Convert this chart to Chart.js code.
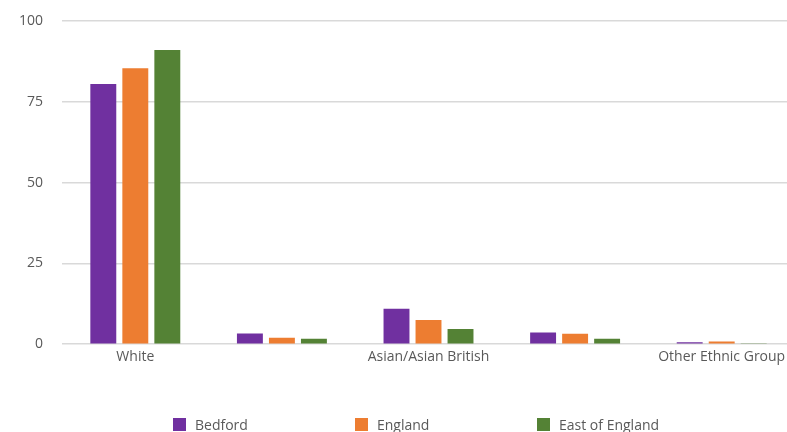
<!DOCTYPE html>
<html>
<head>
<meta charset="utf-8">
<script src="https://cdn.jsdelivr.net/npm/chart.js@4/dist/chart.umd.min.js"></script>
<style>
  html, body { margin: 0; padding: 0; background: #fff; overflow: hidden; }
  #wrap { position: relative; width: 795px; height: 432px; }
  #legend { position: absolute; left: 0; top: 415px; width: 787px; height: 17px;
            font-family: "Open Sans", sans-serif; font-size: 14px; color: #595959; }
  .li { position: absolute; top: 0; display: flex; align-items: center; white-space: nowrap; }
  .sw { width: 13px; height: 13px; margin-right: 9px; display: inline-block; }
</style>
</head>
<body>
<div id="wrap">
  <canvas id="c" width="795" height="432"></canvas>
  <div id="legend"></div>
</div>
<script>
const categories = ["White", "Mixed/Multiple Ethnic Groups", "Asian/Asian British", "Black/African/Caribbean/Black British", "Other Ethnic Group"];
const seriesNames = ["Bedford", "England", "East of England"];
const bedford = [80.5, 3.3, 11.0, 3.6, 0.6];
const england = [85.4, 2.0, 7.5, 3.2, 0.8];
const eastOfEngland = [91.0, 1.7, 4.7, 1.7, 0.3];
const yTicks = [0, 25, 50, 75, 100];
const colors = ["#7030a0", "#ed7d31", "#548235"];

const seriesValues = [bedford, england, eastOfEngland];
const chart = new Chart(document.getElementById('c'), {
  type: 'bar',
  data: {
    labels: categories,
    datasets: seriesNames.map((n, i) => ({
      label: n,
      data: seriesValues[i],
      backgroundColor: colors[i],
      borderWidth: 0,
      barPercentage: 0.81,
      categoryPercentage: 0.655
    }))
  },
  options: {
    responsive: false,
    animation: false,
    layout: { padding: { left: 15, right: 0, top: 21, bottom: 63 } },
    plugins: { legend: { display: false }, tooltip: { enabled: false } },
    scales: {
      x: {
        grid: { display: false, drawTicks: false },
        border: { display: false },
        ticks: {
          autoSkip: false, maxRotation: 0, minRotation: 0, padding: 4,
          // like the original, only every other category label is shown
          callback: function (value, index) { return index % 2 === 0 ? this.getLabelForValue(value) : ''; },
          color: '#595959', font: { family: '"Open Sans", sans-serif', size: 14 }
        }
      },
      y: {
        min: 0, max: 100,
        afterBuildTicks: (axis) => { axis.ticks = yTicks.map(v => ({ value: v })); },
        grid: { color: '#d9d9d9', lineWidth: 1.5, drawTicks: true, tickLength: 15, tickColor: 'rgba(0,0,0,0)' },
        border: { display: false },
        ticks: {
          padding: 4,
          color: '#595959', font: { family: '"Open Sans", sans-serif', size: 14 }
        }
      }
    }
  }
});

const legend = document.getElementById('legend');
chart.data.datasets.forEach((ds, i) => {
  const item = document.createElement('div');
  item.className = 'li';
  item.style.left = (173 + i * 182) + 'px';
  const sw = document.createElement('span');
  sw.className = 'sw';
  sw.style.background = ds.backgroundColor;
  const t = document.createElement('span');
  t.textContent = ds.label;
  item.appendChild(sw);
  item.appendChild(t);
  legend.appendChild(item);
});
</script>
</body>
</html>
